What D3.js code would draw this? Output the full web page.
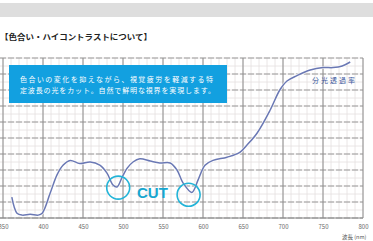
<!DOCTYPE html>
<html><head><meta charset="utf-8">
<script src="https://cdn.jsdelivr.net/npm/d3@7"></script>
<style>html,body{margin:0;padding:0;background:#fff;overflow:hidden}svg{display:block}</style>
</head><body><svg id="c" width="373" height="241"></svg>
<script>
const wavelengths = [361,367.5,374,384,394,399,409,417.5,425,434,446,459,471,480,487.5,492.5,499,505,512.5,521,534,546,559,567.5,575,586,594,602.5,612.5,630,646,655,667.5,684,696,705,717.5,734,750,762.5,774,784];
const transmittance = [13,3,1.8,2.3,1.8,3,15.6,27,33,36,34,35,33,28,20.6,19.4,25.6,31,35,37,35.6,34.4,34.4,30,22,16,24,33,36,38,41,45.6,53,67.5,80,85.6,89,92.5,94,94,95,97.5];
const xTicks = [350,400,450,500,550,600,650,700,750,800];
const cutPoints = [{nm:494,v:19},{nm:582,v:14.5}];
const titleText = "【色合い・ハイコントラストについて】";
const boxLines = ["色合いの変化を抑えながら、視覚疲労を軽減する特","定波長の光をカット。自然で鮮明な視界を実現します。"];
const seriesLabel = "分光透過率";
const axisLabel = "波長 (nm)";

const svg = d3.select("#c");
const font = "'Noto Sans CJK JP','Noto Sans',sans-serif";
const x = d3.scaleLinear().domain([350,800]).range([3,363]);
const y = d3.scaleLinear().domain([0,100]).range([218,58]);

// header bar
svg.append("rect").attr("x",0).attr("y",3).attr("width",373).attr("height",14).attr("fill","#dedede");
svg.append("text").attr("x",0).attr("y",40).attr("font-family",font).attr("font-weight","bold")
  .attr("font-size",8).attr("fill","#222").attr("textLength",152).attr("lengthAdjust","spacingAndGlyphs").text(titleText);

// minor grid
const g = svg.append("g");
g.selectAll(".mv").data(d3.range(350,801,10)).join("line")
  .attr("x1",d=>x(d)).attr("x2",d=>x(d)).attr("y1",y(100)).attr("y2",y(0))
  .attr("stroke","#e4dfdf").attr("stroke-width",0.8);
g.selectAll(".mh").data(d3.range(0,101,5)).join("line")
  .attr("x1",0).attr("x2",x(800)).attr("y1",d=>y(d)).attr("y2",d=>y(d))
  .attr("stroke","#e4dfdf").attr("stroke-width",0.8);
// major horizontal dashed
g.selectAll(".Mh").data(d3.range(0,101,10)).join("line")
  .attr("x1",0).attr("x2",x(800)).attr("y1",d=>y(d)).attr("y2",d=>y(d))
  .attr("stroke","#9a9a9a").attr("stroke-width",1).attr("stroke-dasharray","6,2");
// major vertical
g.selectAll(".Mv").data(xTicks).join("line")
  .attr("x1",d=>x(d)).attr("x2",d=>x(d)).attr("y1",y(100)).attr("y2",y(0))
  .attr("stroke","#8c8c8c").attr("stroke-width",1);
g.append("line").attr("x1",0).attr("x2",x(800)).attr("y1",y(0)).attr("y2",y(0)).attr("stroke","#8c8c8c");

// x axis labels
const ax = svg.append("g").attr("transform",`translate(0,${y(0)})`)
  .call(d3.axisBottom(x).tickValues(xTicks).tickSize(0).tickPadding(7).tickFormat(d3.format("d")));
ax.select(".domain").remove();
ax.selectAll("text").attr("font-size",6).attr("font-family",font).attr("fill","#666");
svg.append("text").attr("x",342).attr("y",239).attr("font-size",5.5).attr("font-family",font).attr("fill","#555").text(axisLabel);

// blue box
svg.append("rect").attr("x",9).attr("y",65).attr("width",218).attr("height",38).attr("fill","#12a0e0");
svg.selectAll(".bl").data(boxLines).join("text")
  .attr("x",20).attr("y",(d,i)=>82+i*11).attr("font-family",font).attr("font-size",7)
  .attr("fill","#fff").attr("textLength",(d,i)=>i===0?193:195).attr("lengthAdjust","spacing").text(d=>d);

// curve
const data = wavelengths.map((w,i)=>({w,v:transmittance[i]}));
const line = d3.line().x(d=>x(d.w)).y(d=>y(d.v)).curve(d3.curveCatmullRom.alpha(0.5));
svg.append("path").datum(data).attr("d",line).attr("fill","none").attr("stroke","#fff").attr("stroke-width",3).attr("opacity",0.7);
svg.append("path").datum(data).attr("d",line).attr("fill","none").attr("stroke","#6a78b4").attr("stroke-width",1.5);

svg.append("text").attr("x",312).attr("y",83).attr("font-family",font).attr("font-size",7)
  .attr("fill","#3d5a9e").attr("textLength",43).attr("lengthAdjust","spacing").text(seriesLabel);

// CUT circles
svg.selectAll(".cc").data(cutPoints).join("circle")
  .attr("cx",d=>x(d.nm)).attr("cy",d=>y(d.v)).attr("r",11.5)
  .attr("fill","none").attr("stroke","#22b4d8").attr("stroke-width",1.6);
svg.append("text").attr("x",137).attr("y",198).attr("font-family","'Liberation Sans',Arial,sans-serif")
  .attr("font-weight","bold").attr("font-size",15).attr("fill","#18a6cf").text("CUT");
</script></body></html>
